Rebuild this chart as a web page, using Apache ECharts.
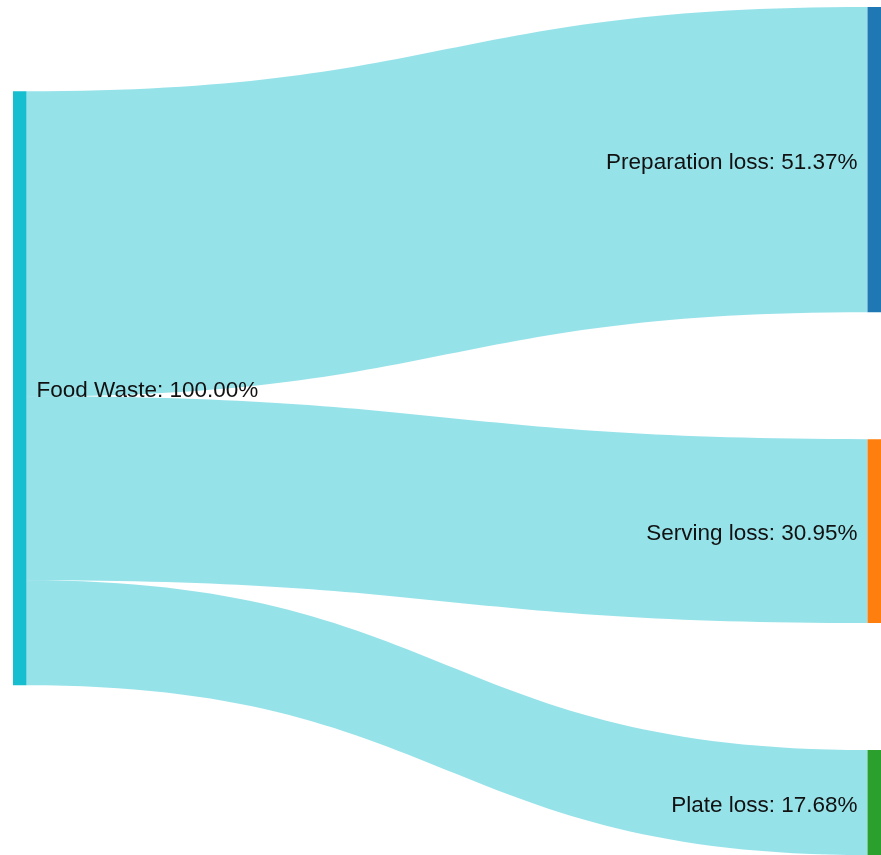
<!DOCTYPE html>
<html>
<head>
<meta charset="utf-8">
<script src="https://cdn.jsdelivr.net/npm/echarts@6/dist/echarts.min.js"></script>
<style>
html,body{margin:0;padding:0;background:#fff;}
#chart{width:881px;height:855px;}
</style>
</head>
<body>
<div id="chart"></div>
<script>
const nodeNames = ['Food Waste', 'Preparation loss', 'Serving loss', 'Plate loss'];
const nodeColors = ['#17becf', '#1f77b4', '#ff7f0e', '#2ca02c'];
const linkSources = ['Food Waste', 'Food Waste', 'Food Waste'];
const linkTargets = ['Preparation loss', 'Serving loss', 'Plate loss'];
const linkValues = [51.37, 30.95, 17.68];
const nodeValues = [100.00, 51.37, 30.95, 17.68];

const chart = echarts.init(document.getElementById('chart'), null, {renderer: 'canvas'});
const data = nodeNames.map((n, i) => ({
  name: n,
  itemStyle: {color: nodeColors[i], borderWidth: 0},
  label: {position: i === 0 ? 'right' : 'left'}
}));
const links = linkSources.map((s, i) => ({
  source: s, target: linkTargets[i], value: linkValues[i]
}));
chart.setOption({
  animation: false,
  series: [{
    type: 'sankey',
    left: 13, right: 0, top: 7, bottom: 0,
    nodeWidth: 13.5,
    nodeGap: 127,
    draggable: false,
    layoutIterations: 32,
    data: data,
    links: links,
    lineStyle: {color: '#17becf', opacity: 0.45, curveness: 0.5},
    emphasis: {disabled: true},
    label: {
      color: '#111',
      fontFamily: 'Liberation Sans, Arial, sans-serif',
      fontSize: 22.5,
      distance: 10,
      offset: [0, 3],
      formatter: function (p) {
        const i = nodeNames.indexOf(p.name);
        return p.name + ': ' + nodeValues[i].toFixed(2) + '%';
      }
    }
  }]
});
</script>
</body>
</html>
